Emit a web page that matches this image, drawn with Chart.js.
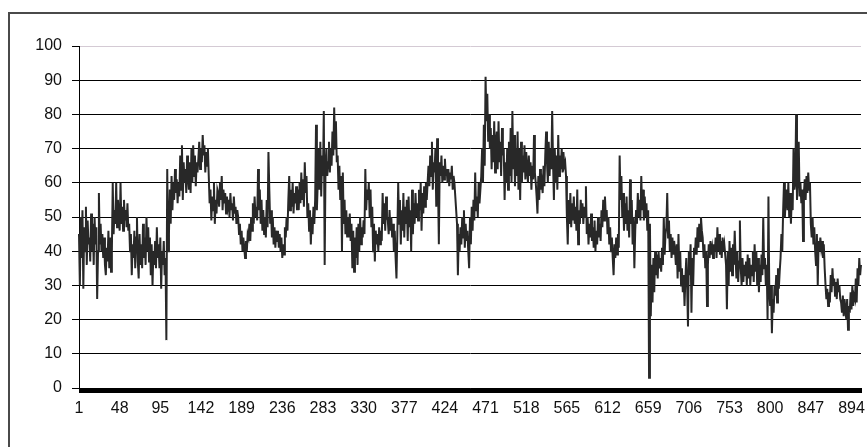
<!DOCTYPE html>
<html>
<head>
<meta charset="utf-8">
<script src="https://cdn.jsdelivr.net/npm/chart.js@4/dist/chart.umd.min.js"></script>
<style>
  html, body { margin: 0; padding: 0; background: #fff; overflow: hidden; }
  #wrap { position: relative; width: 867px; height: 447px; }
  #frame { position: absolute; left: 8px; top: 12px; width: 900px; height: 500px; border: 2px solid #4a4a4a; }
  canvas { position: absolute; left: 0; top: 0; }
</style>
</head>
<body>
<div id="wrap">
  <div id="frame"></div>
  <canvas id="chart" width="867" height="447"></canvas>
</div>
<script>
// series values (one value per day)
const values = [
  45,30,50,38,52,29,47,40,53,36,49,42,
  44,37,51,40,48,36,50,42,47,26,40,
  57,42,48,40,45,38,44,36,33,41,37,46,
  35,44,34,40,60,45,52,48,60,47,55,
  50,46,60,48,53,46,55,49,52,47,54,46,
  48,40,45,33,42,38,46,35,44,50,37,
  32,45,36,42,35,48,38,44,36,50,40,47,
  37,44,33,42,30,40,36,43,35,47,38,
  42,35,44,29,40,36,43,33,38,14,64,40,
  45,58,48,62,52,60,55,64,57,61,54,
  60,56,68,58,71,55,66,60,64,57,68,62,
  58,66,57,70,60,71,62,68,59,66,63,
  67,72,64,70,66,74,68,71,63,69,65,70,
  62,54,58,49,56,52,60,48,55,51,58,
  57,53,60,55,62,52,58,54,57,51,56,53,
  55,50,57,52,54,49,56,51,53,48,52,
  50,45,48,42,46,40,44,41,38,43,40,45,
  44,48,43,50,46,54,48,56,50,53,49,
  64,52,58,48,55,46,52,45,50,44,55,47,
  69,58,48,52,44,50,42,47,41,46,43,
  46,41,45,40,44,38,42,39,47,44,50,46,
  55,62,52,58,53,60,51,57,54,59,52,
  58,52,60,54,63,55,61,53,66,57,62,50,
  54,46,52,42,50,45,53,48,55,77,52,
  60,70,58,72,56,68,62,81,36,65,70,62,
  66,72,63,70,65,75,68,82,70,78,66,
  68,58,65,55,62,40,63,48,55,45,52,44,
  50,44,51,43,48,35,46,34,44,38,47,
  36,48,40,50,42,47,44,49,45,64,52,58,
  55,60,50,58,47,53,40,48,37,46,42,
  45,40,47,42,46,43,57,48,54,46,56,50,
  49,45,52,46,50,44,48,40,46,38,32,
  45,60,48,55,42,52,46,57,44,53,48,55,
  43,56,47,52,40,58,45,54,48,57,50,
  54,49,58,52,60,46,57,51,59,53,60,55,
  60,65,59,68,62,72,58,66,63,70,53,
  73,60,42,66,62,68,60,65,61,67,62,64,
  60,64,59,63,61,65,58,62,60,56,52,
  48,33,45,40,47,42,50,44,52,41,48,43,
  46,40,35,50,42,53,46,55,49,63,52,
  56,50,60,54,58,62,70,60,77,65,91,78,
  86,72,80,70,76,64,74,66,78,63,72,
  75,64,78,66,72,62,76,68,70,55,66,60,
  70,58,72,62,76,60,81,64,74,59,70,
  62,75,58,70,55,72,60,68,63,71,61,69,
  64,60,68,62,66,58,65,61,74,63,60,
  56,51,62,55,64,58,60,57,65,59,68,75,
  66,60,72,62,70,64,81,66,55,70,60,
  68,58,74,62,68,64,70,63,69,65,66,62,
  50,42,55,48,57,47,54,49,56,48,53,
  46,58,42,52,48,55,50,54,48,53,50,59,
  45,50,42,48,44,51,43,47,41,49,40,
  46,42,50,44,48,43,52,47,55,49,56,50,
  52,45,50,42,47,40,44,38,33,42,38,
  44,39,45,41,68,55,62,50,57,46,54,48,
  56,46,52,44,61,48,55,42,50,35,46,
  52,48,57,50,55,49,62,52,58,49,56,50,
  54,46,52,3,48,21,36,25,38,28,40,
  33,39,32,40,35,38,34,41,36,50,39,45,
  47,57,44,49,40,45,38,44,39,43,40,
  36,42,32,45,34,40,30,35,28,33,24,32,
  38,30,18,40,33,42,22,38,30,41,39,
  44,39,47,41,48,43,50,46,44,38,42,35,
  40,24,36,42,38,43,39,41,38,42,40,
  44,38,47,40,45,39,43,38,44,40,42,39,
  36,23,40,30,43,34,41,33,42,36,46,
  38,32,40,31,37,49,35,30,38,31,36,33,
  37,30,39,32,38,30,36,33,40,31,42,
  34,40,30,38,28,36,31,39,33,50,35,38,
  30,36,20,56,28,24,30,16,26,22,30,
  27,33,25,35,29,34,38,45,40,52,60,50,
  55,58,52,60,50,57,48,56,52,70,58,
  60,80,55,62,72,56,60,54,58,43,57,61,
  55,62,57,63,58,60,48,44,50,42,47,
  40,36,45,30,43,40,44,41,43,38,42,35,
  30,26,29,24,28,25,33,28,35,30,32,
  27,31,26,32,28,30,26,25,22,27,21,26,
  23,20,26,17,24,22,28,23,30,24,27,
  26,32,25,35,30,38,33,36
];

// category axis: day numbers, labelled every 47th
const categories = values.map((v, i) => String(i + 1));
const tickLabels = ["1","48","95","142","189","236","283","330","377","424",
  "471","518","565","612","659","706","753","800","847","894"];
const yTicks = [0,10,20,30,40,50,60,70,80,90,100];

const axisFont = { family: "'Liberation Sans', Arial, sans-serif", size: 16 };

new Chart(document.getElementById("chart"), {
  type: "line",
  data: {
    labels: categories,
    datasets: [{
      data: values,
      borderColor: "#282828",
      borderWidth: 2,
      pointRadius: 0,
      tension: 0,
      fill: false
    }]
  },
  options: {
    responsive: false,
    animation: false,
    layout: { padding: { top: 46, right: 1, left: 0, bottom: 0 } },
    plugins: { legend: { display: false }, tooltip: { enabled: false } },
    scales: {
      x: {
        offset: false,
        border: { display: true, color: "#000", width: 1 },
        grid: { drawOnChartArea: false, drawTicks: true, tickLength: 5, color: "#000", lineWidth: 1 },
        ticks: {
          autoSkip: false,
          maxRotation: 0,
          minRotation: 0,
          padding: 6,
          color: "#111",
          font: axisFont,
          callback: function (val, index) {
            const lab = categories[index];
            return tickLabels.includes(lab) ? lab : "";
          }
        },
        afterFit: function (scale) { scale.height = 59; }
      },
      y: {
        min: 0,
        max: 100,
        afterBuildTicks: function (scale) { scale.ticks = yTicks.map(v => ({ value: v })); },
        border: { display: true, color: "#000", width: 1 },
        grid: {
          color: ctx => (ctx.tick && ctx.tick.value === 100 ? "#d4cad4" : "#000"),
          tickColor: "#000",
          tickLength: 7,
          lineWidth: 1
        },
        ticks: { padding: 10, color: "#111", font: axisFont },
        afterFit: function (scale) { scale.width = 79; }
      }
    }
  }
});
</script>
</body>
</html>
